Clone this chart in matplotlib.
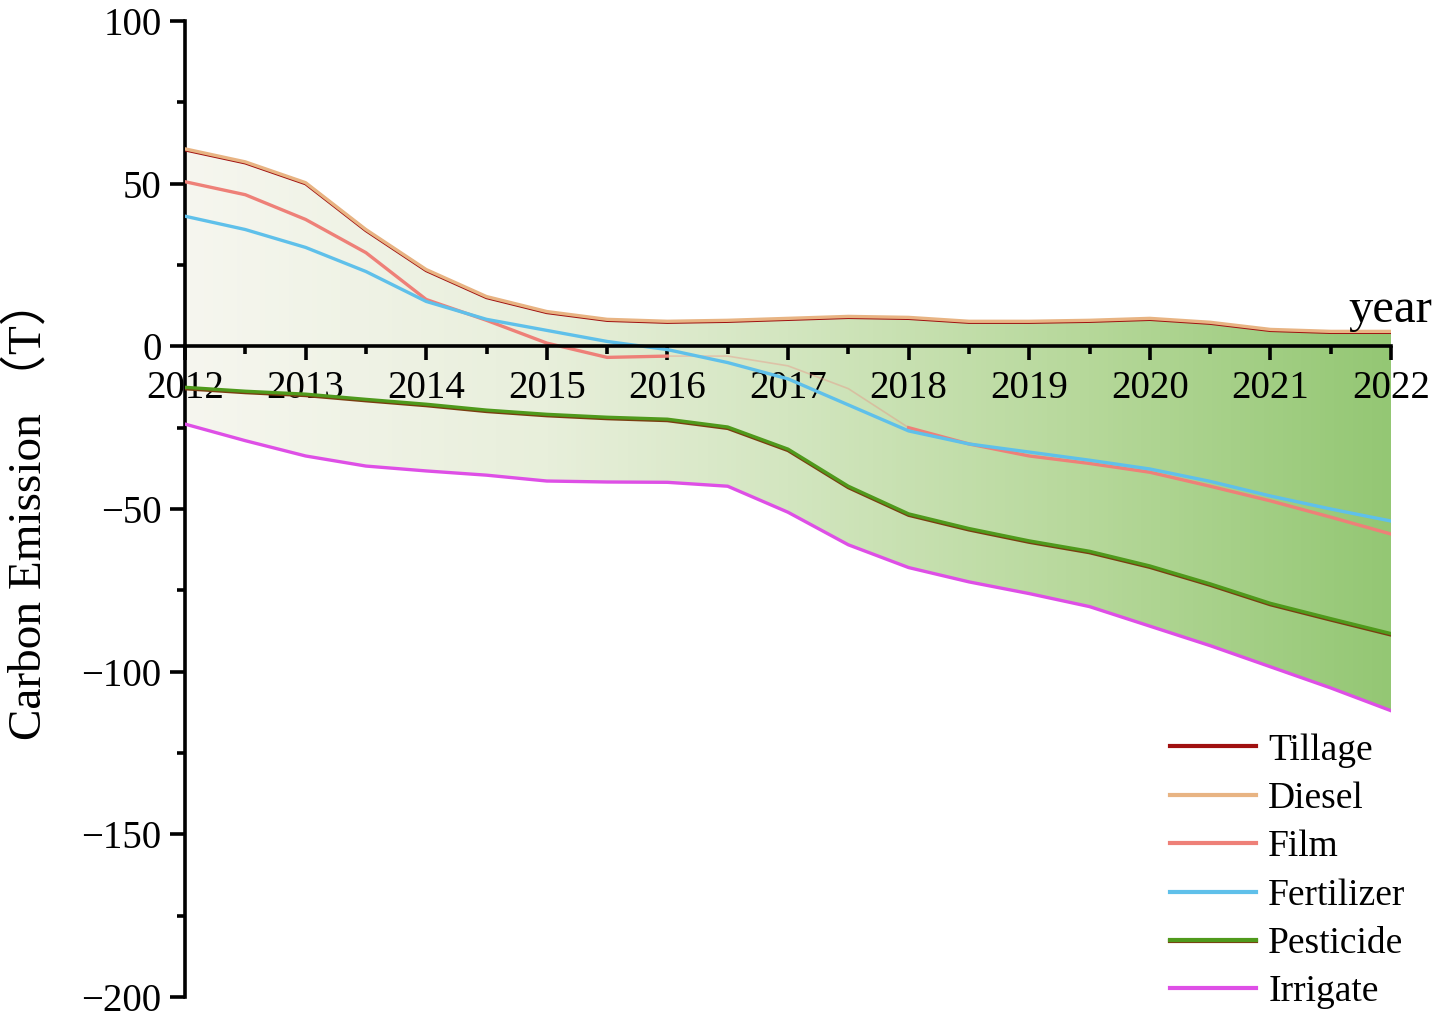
import matplotlib
matplotlib.use("Agg")
import matplotlib.pyplot as plt
import matplotlib.patheffects as pe
from matplotlib.colors import LinearSegmentedColormap
from matplotlib.ticker import MultipleLocator
import numpy as np

# half-year readings, 2012 .. 2022
years = np.arange(2012, 2022.01, 0.5)
tillage = [60.4, 56.4, 50.0, 35.6, 23.3, 15.0, 10.4, 8.0, 7.4, 7.7, 8.3, 8.9, 8.6,
           7.4, 7.4, 7.7, 8.3, 7.1, 4.9, 4.3, 4.3]
diesel = [60.7, 56.7, 50.3, 35.9, 23.6, 15.3, 10.7, 8.3, 7.7, 8.0, 8.6, 9.2, 8.9,
          7.7, 7.7, 8.0, 8.6, 7.4, 5.2, 4.6, 4.6]
film = [50.6, 46.6, 39.0, 28.8, 14.4, 8.0, 1.0, -3.4, -3.0, -3.0, -6.0, -13.0, -25.0,
        -30.0, -33.7, -36.0, -38.7, -43.0, -47.5, -52.5, -57.7]
fertilizer = [40.0, 35.9, 30.4, 23.0, 13.8, 8.3, 4.9, 1.5, -1.0, -5.0, -10.0, -18.0, -26.0,
              -30.0, -32.5, -35.0, -37.7, -41.5, -46.0, -50.0, -53.7]
pesticide = [-12.6, -13.8, -14.7, -16.3, -17.8, -19.6, -20.9, -21.8, -22.4, -24.8, -31.6,
             -43.0, -51.5, -56.0, -59.8, -63.0, -67.5, -73.0, -79.0, -83.7, -88.3]
irrigate = [-23.9, -29.0, -33.7, -36.8, -38.3, -39.6, -41.4, -41.7, -41.8, -43.0, -51.0,
            -61.0, -68.0, -72.4, -76.0, -80.0, -86.0, -92.0, -98.5, -105.0, -112.0]

names = ["Tillage", "Diesel", "Film", "Fertilizer", "Pesticide", "Irrigate"]
colors = ["#a01010", "#e8b483", "#ee8078", "#5fc0ea", "#4f9a1c", "#de4fe6"]

plt.rcParams["font.family"] = ["Liberation Serif", "Noto Sans CJK SC"]

fig = plt.figure(figsize=(14.41, 10.19), dpi=100)
ax = fig.add_axes([185 / 1441, 1 - 997 / 1019, (1391 - 185) / 1441, (997 - 21) / 1019])

# gradient fill between the top and bottom series
poly = ax.fill_between(years, diesel, irrigate, color="none", lw=0)
cmap = LinearSegmentedColormap.from_list(
    "g", [(0, "#f6f6ef"), (0.3, "#e8efdb"), (0.5, "#d3e6c0"), (0.75, "#b6d89a"), (1, "#94c774")])
grad = np.linspace(0, 1, 256).reshape(1, -1)
im = ax.imshow(grad, cmap=cmap, aspect="auto", extent=[2012, 2022, -200, 100],
               origin="lower", zorder=1)
im.set_clip_path(poly.get_paths()[0], transform=ax.transData)

lw = 2.4
ax.plot(years, tillage, color=colors[0], lw=lw, zorder=3, label=names[0])
ax.plot(years, diesel, color=colors[1], lw=lw, zorder=4, label=names[1])
ax.plot(years, film, color=colors[2], lw=lw * 0.5, alpha=0.35, zorder=3)
fv = np.array(film, dtype=float)
ax.plot(years[years <= 2016.0], fv[years <= 2016.0], color=colors[2], lw=lw, zorder=4,
        label=names[2])
ax.plot(years[years >= 2018.0], fv[years >= 2018.0], color=colors[2], lw=lw, zorder=4)
ax.plot(years, fertilizer, color=colors[3], lw=lw, zorder=5, label=names[3])
ax.plot(years, pesticide, color=colors[4], lw=lw, zorder=5, label=names[4],
        path_effects=[pe.SimpleLineShadow(offset=(0, -1.0), shadow_color="#7a3d10", alpha=1),
                      pe.Normal()])
ax.plot(years, irrigate, color=colors[5], lw=lw, zorder=5, label=names[5])

ax.set_xlim(2012, 2022)
ax.set_ylim(-200, 100)

for s in ["top", "right"]:
    ax.spines[s].set_visible(False)
ax.spines["bottom"].set_position(("data", 0))
ax.spines["left"].set_linewidth(2.6)
ax.spines["bottom"].set_linewidth(2.6)
ax.spines["bottom"].set_zorder(6)

ax.xaxis.set_minor_locator(MultipleLocator(0.5))
ax.yaxis.set_major_locator(MultipleLocator(50))
ax.yaxis.set_minor_locator(MultipleLocator(25))
ax.set_xticks(range(2012, 2023))
ax.set_xticklabels([str(y) for y in range(2012, 2023)])
ax.tick_params(axis="x", which="major", direction="out", length=10, width=2.6,
               labelsize=28, pad=7)
ax.tick_params(axis="x", which="minor", direction="out", length=6, width=2.6)
ax.tick_params(axis="y", which="major", direction="out", length=11, width=2.6,
               labelsize=28, pad=6)
ax.tick_params(axis="y", which="minor", direction="out", length=6, width=2.6)

ax.set_ylabel("Carbon Emission （T）", fontsize=34, labelpad=22)
fig.text(1432 / 1441, 1 - 322 / 1019, "year", ha="right", va="baseline", fontsize=35)

leg = fig.legend(loc="upper left", bbox_to_anchor=(1170 / 1441, 1 - 733 / 1019),
                 frameon=False, fontsize=27, handlelength=2.3, handletextpad=0.32,
                 labelspacing=0.37, borderpad=0, borderaxespad=0)
for h in leg.get_lines():
    h.set_linewidth(3)

fig.savefig("out.png", dpi=100, facecolor="white")
